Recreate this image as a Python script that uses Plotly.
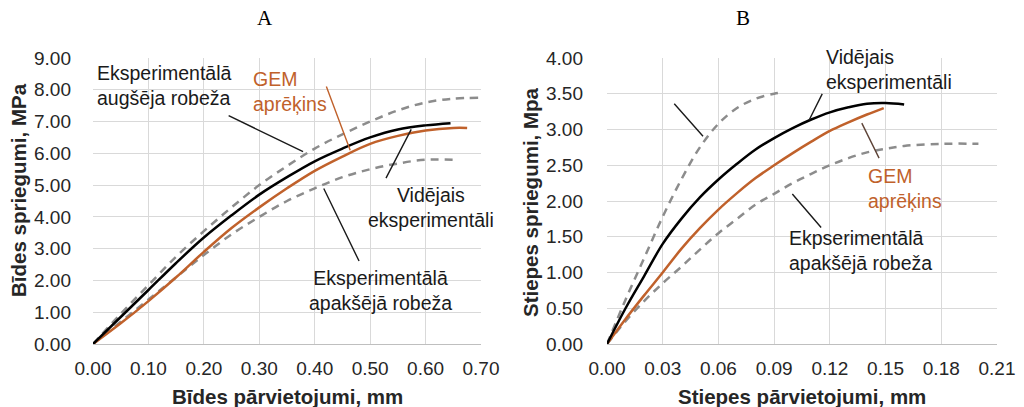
import plotly.graph_objects as go
from plotly.subplots import make_subplots

# ---- A: shear (Bīdes) ----
a_mean_x = [0, 0.05, 0.10, 0.15, 0.20, 0.25, 0.30, 0.35, 0.40, 0.45, 0.50, 0.55, 0.60, 0.645]
a_mean_y = [0, 0.85, 1.70, 2.55, 3.35, 4.05, 4.70, 5.25, 5.75, 6.15, 6.50, 6.75, 6.88, 6.95]

a_gem_x = [0, 0.05, 0.10, 0.15, 0.20, 0.25, 0.30, 0.35, 0.40, 0.45, 0.50, 0.55, 0.60, 0.65, 0.675]
a_gem_y = [0, 0.65, 1.35, 2.10, 2.90, 3.65, 4.30, 4.90, 5.45, 5.90, 6.30, 6.55, 6.72, 6.80, 6.80]

a_upper_x = [0, 0.05, 0.10, 0.15, 0.20, 0.25, 0.30, 0.35, 0.40, 0.45, 0.50, 0.55, 0.60, 0.65, 0.695]
a_upper_y = [0, 0.95, 1.85, 2.75, 3.55, 4.30, 5.00, 5.60, 6.15, 6.60, 7.00, 7.35, 7.60, 7.72, 7.75]

a_lower_x = [0, 0.05, 0.10, 0.15, 0.20, 0.25, 0.30, 0.35, 0.40, 0.45, 0.50, 0.55, 0.60, 0.65]
a_lower_y = [0, 0.70, 1.40, 2.10, 2.80, 3.45, 4.00, 4.50, 4.90, 5.25, 5.50, 5.68, 5.80, 5.80]

# ---- B: tension (Stiepes) ----
b_mean_x = [0, 0.01, 0.02, 0.03, 0.04, 0.05, 0.06, 0.07, 0.08, 0.09, 0.10, 0.11, 0.12, 0.13, 0.14, 0.15, 0.16]
b_mean_y = [0, 0.50, 0.95, 1.40, 1.75, 2.05, 2.30, 2.52, 2.72, 2.88, 3.02, 3.14, 3.24, 3.31, 3.36, 3.37, 3.35]

b_gem_x = [0, 0.01, 0.02, 0.03, 0.04, 0.05, 0.06, 0.07, 0.08, 0.09, 0.10, 0.11, 0.12, 0.13, 0.14, 0.149]
b_gem_y = [0, 0.35, 0.68, 1.00, 1.33, 1.62, 1.88, 2.11, 2.32, 2.50, 2.67, 2.83, 2.98, 3.10, 3.21, 3.30]

b_upper_x = [0, 0.01, 0.02, 0.03, 0.04, 0.05, 0.06, 0.07, 0.08, 0.09, 0.095]
b_upper_y = [0, 0.62, 1.20, 1.78, 2.30, 2.75, 3.08, 3.30, 3.43, 3.50, 3.52]

b_lower_x = [0, 0.01, 0.02, 0.03, 0.04, 0.05, 0.06, 0.07, 0.08, 0.09, 0.10, 0.11, 0.12, 0.13, 0.14, 0.15, 0.16, 0.18, 0.20]
b_lower_y = [0, 0.32, 0.60, 0.85, 1.08, 1.32, 1.55, 1.75, 1.95, 2.10, 2.25, 2.38, 2.50, 2.60, 2.68, 2.73, 2.77, 2.80, 2.80]

a_xticks = [0, 0.1, 0.2, 0.3, 0.4, 0.5, 0.6, 0.7]
a_yticks = [0, 1, 2, 3, 4, 5, 6, 7, 8, 9]
b_xticks = [0, 0.03, 0.06, 0.09, 0.12, 0.15, 0.18, 0.21]
b_yticks = [0, 0.5, 1.0, 1.5, 2.0, 2.5, 3.0, 3.5, 4.0]

BLACK = "#000000"
ORANGE = "#C0612B"
GRAY = "#8C8C8C"
GRID = "#D9D9D9"
TXT = "#262626"
FONT = "Liberation Sans, Arial, sans-serif"

fig = make_subplots(rows=1, cols=2)

def add_curves(col, up, lo, mean, gem):
    fig.add_trace(go.Scatter(x=up[0], y=up[1], mode="lines",
                             line=dict(color=GRAY, width=2.5, dash="8px,6px"),
                             line_shape="spline"), row=1, col=col)
    fig.add_trace(go.Scatter(x=lo[0], y=lo[1], mode="lines",
                             line=dict(color=GRAY, width=2.5, dash="8px,6px"),
                             line_shape="spline"), row=1, col=col)
    fig.add_trace(go.Scatter(x=gem[0], y=gem[1], mode="lines",
                             line=dict(color=ORANGE, width=2.5),
                             line_shape="spline"), row=1, col=col)
    fig.add_trace(go.Scatter(x=mean[0], y=mean[1], mode="lines",
                             line=dict(color=BLACK, width=2.5),
                             line_shape="spline"), row=1, col=col)

add_curves(1, (a_upper_x, a_upper_y), (a_lower_x, a_lower_y),
           (a_mean_x, a_mean_y), (a_gem_x, a_gem_y))
add_curves(2, (b_upper_x, b_upper_y), (b_lower_x, b_lower_y),
           (b_mean_x, b_mean_y), (b_gem_x, b_gem_y))

W, H = 1024, 407
ydom = [1 - 344 / H, 1 - 58 / H]

axis_common = dict(showgrid=True, gridcolor=GRID, gridwidth=1.3, zeroline=False,
                   tickfont=dict(family=FONT, size=19, color=TXT),
                   ticks="", mirror=False, showline=False, automargin=False)

fig.update_xaxes(axis_common)
fig.update_yaxes(axis_common)

fig.update_layout(
    xaxis=dict(domain=[93 / W, 481 / W], range=[0, 0.7], tickvals=a_xticks,
               tickformat=".2f", showline=True, linecolor="#BFBFBF", linewidth=1.3,
               ticklabelstandoff=7),
    yaxis=dict(domain=ydom, range=[0, 9], tickvals=a_yticks, tickformat=".2f",
               ticklabelstandoff=21),
    xaxis2=dict(domain=[607 / W, 997 / W], range=[0, 0.21], tickvals=b_xticks,
                tickformat=".2f", showline=True, linecolor="#BFBFBF", linewidth=1.3,
                ticklabelstandoff=7),
    yaxis2=dict(domain=ydom, range=[0, 4], tickvals=b_yticks, tickformat=".2f",
                ticklabelstandoff=23),
    width=W, height=H, margin=dict(l=0, r=0, t=0, b=0),
    paper_bgcolor="white", plot_bgcolor="white", showlegend=False,
)

ann = []

def paper_text(text, px, py, font, angle=0):
    ann.append(dict(text=text, x=px / W, y=1 - py / H, xref="paper", yref="paper",
                    xanchor="center", yanchor="middle", showarrow=False,
                    textangle=angle, font=font))

# Panel titles
serif = dict(family="Liberation Serif, Times New Roman, serif", size=21, color="#000")
paper_text("A", 265, 18, serif)
paper_text("B", 743, 18, serif)

# Axis titles
title_font = dict(family=FONT, size=20.5, color=TXT)
paper_text("<b>Bīdes pārvietojumi, mm</b>", 287, 396, title_font)
paper_text("<b>Stiepes pārvietojumi, mm</b>", 802, 396, title_font)
paper_text("<b>Bīdes spriegumi, MPa</b>", 18, 190, title_font, -90)
paper_text("<b>Stiepes spriegumi, Mpa</b>", 530, 202, title_font, -90)

lab_font = dict(family=FONT, size=19.5, color="#1A1A1A")
orange_font = dict(family=FONT, size=19.5, color=ORANGE)

def label(text, x, y, xr, yr, xanchor, align, font=lab_font):
    ann.append(dict(text=text, x=x, y=y, xref=xr, yref=yr, showarrow=False,
                    xanchor=xanchor, yanchor="middle", align=align, font=font))

def leader(x0, y0, x1, y1, xr, yr, color):
    ann.append(dict(x=x1, y=y1, ax=x0, ay=y0, xref=xr, yref=yr, axref=xr, ayref=yr,
                    text="", showarrow=True, arrowhead=0, arrowwidth=1.4,
                    arrowcolor=color, standoff=0, startstandoff=0))

# Panel A labels
label("Eksperimentālā<br>augšēja robeža", 0.004, 8.15, "x", "y", "left", "left")
leader(0.242, 7.21, 0.379, 6.05, "x", "y", "#1A1A1A")
label("GEM<br>aprēķins", 0.285, 7.96, "x", "y", "left", "left", orange_font)
leader(0.420, 8.15, 0.464, 6.10, "x", "y", ORANGE)
label("Vidējais<br>eksperimentāli", 0.61, 4.28, "x", "y", "center", "center")
leader(0.5755, 6.80, 0.5286, 5.22, "x", "y", "#1A1A1A")
label("Eksperimentālā<br>apakšējā robeža", 0.518, 1.67, "x", "y", "center", "center")
leader(0.415, 4.94, 0.48, 2.61, "x", "y", "#1A1A1A")

# Panel B labels
label("Ekpserimentālā<br>augšējā robeža", -0.004, 3.81, "x2", "y2", "left", "left")
leader(0.0355, 3.38, 0.0517, 2.905, "x2", "y2", "#1A1A1A")
label("Vidējais<br>eksperimentāli", 0.1169, 3.84, "x2", "y2", "left", "left")
leader(0.1163, 3.52, 0.1088, 3.13, "x2", "y2", "#1A1A1A")
label("GEM<br>aprēķins", 0.1395, 2.18, "x2", "y2", "left", "left", orange_font)
leader(0.1368, 3.11, 0.1465, 2.60, "x2", "y2", "#5E4438")
label("Ekpserimentālā<br>apakšējā robeža", 0.097, 1.31, "x2", "y2", "left", "left")
leader(0.0991, 2.12, 0.1153, 1.63, "x2", "y2", "#1A1A1A")

fig.update_layout(annotations=ann)

fig.write_html("out.html")
